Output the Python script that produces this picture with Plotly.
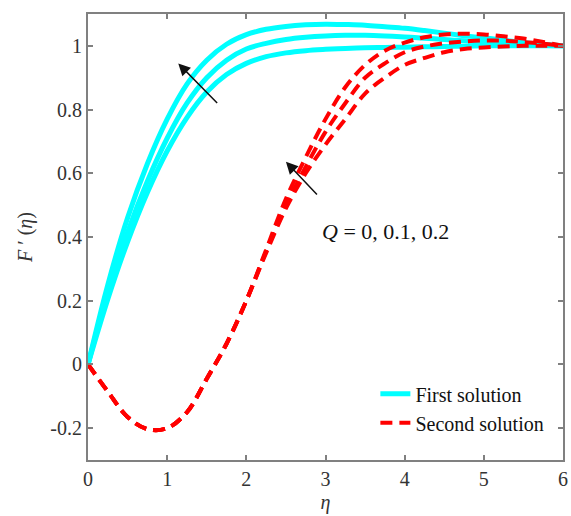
import plotly.graph_objects as go

eta = [0, 0.25, 0.5, 0.75, 1.0, 1.25, 1.5, 1.75, 2.0, 2.25, 2.5, 2.75, 3.0,
       3.25, 3.5, 3.75, 4.0, 4.25, 4.5, 4.75, 5.0, 5.25, 5.5, 5.75, 6.0]

# First solution, three values of Q
first_a = [0, 0.25, 0.46, 0.63, 0.77, 0.88, 0.955, 1.005, 1.035, 1.052, 1.061, 1.066, 1.068,
           1.067, 1.065, 1.06, 1.055, 1.048, 1.04, 1.032, 1.025, 1.018, 1.01, 1.005, 1.0]
first_b = [0, 0.225, 0.415, 0.575, 0.71, 0.82, 0.9, 0.955, 0.99, 1.008, 1.02, 1.027, 1.031,
           1.033, 1.033, 1.031, 1.028, 1.024, 1.02, 1.016, 1.012, 1.008, 1.005, 1.002, 1.0]
first_c = [0, 0.205, 0.385, 0.54, 0.67, 0.775, 0.855, 0.91, 0.945, 0.966, 0.978, 0.985, 0.989,
           0.992, 0.994, 0.995, 0.996, 0.997, 0.998, 0.999, 1.0, 1.0, 1.0, 1.0, 1.0]

# Second solution, three values of Q
second_a = [0, -0.085, -0.165, -0.203, -0.2, -0.15, -0.045, 0.065, 0.2, 0.36, 0.52, 0.65, 0.77,
            0.87, 0.94, 0.985, 1.01, 1.027, 1.036, 1.038, 1.036, 1.03, 1.023, 1.012, 1.0]
second_b = [0, -0.085, -0.165, -0.203, -0.2, -0.15, -0.045, 0.065, 0.2, 0.355, 0.5, 0.62, 0.73,
            0.82, 0.9, 0.945, 0.98, 0.998, 1.008, 1.014, 1.017, 1.016, 1.012, 1.007, 1.0]
second_c = [0, -0.085, -0.165, -0.203, -0.2, -0.15, -0.045, 0.065, 0.2, 0.35, 0.49, 0.6, 0.69,
            0.77, 0.85, 0.9, 0.94, 0.962, 0.98, 0.99, 0.995, 0.998, 1.0, 1.0, 1.0]

y_ticks = [-0.2, 0, 0.2, 0.4, 0.6, 0.8, 1]
y_ticktext = ["-0.2", "0", "0.2", "0.4", "0.6", "0.8", "1"]
x_ticks = [0, 1, 2, 3, 4, 5, 6]

FONT = "Liberation Serif"
CYAN = "#00FFFF"
RED = "#FF0000"

fig = go.Figure()
for i, ys in enumerate([first_a, first_b, first_c]):
    fig.add_trace(go.Scatter(x=eta, y=ys, mode="lines", line=dict(color=CYAN, width=5, shape="spline"),
                             name="First solution", legendgroup="first", showlegend=(i == 0)))
for i, ys in enumerate([second_a, second_b, second_c]):
    fig.add_trace(go.Scatter(x=eta, y=ys, mode="lines",
                             line=dict(color=RED, width=4, dash="12px,7px", shape="spline"),
                             name="Second solution", legendgroup="second", showlegend=(i == 0)))

axis_common = dict(showline=True, linecolor="#808080", linewidth=2, mirror="ticks",
                   ticks="inside", ticklen=5, tickcolor="#808080", tickwidth=1.5,
                   showgrid=False, zeroline=False,
                   tickfont=dict(family=FONT, size=20, color="#333333"))

fig.update_xaxes(range=[0, 6], tickvals=x_ticks,
                 title=dict(text="<i>η</i>", font=dict(family=FONT, size=20, color="#333333"), standoff=6),
                 **axis_common)
fig.update_yaxes(range=[-0.3, 1.1], tickvals=y_ticks, ticktext=y_ticktext,
                 title=dict(text="<i>F</i> ′ (<i>η</i>)", font=dict(family=FONT, size=20, color="#333333"), standoff=12),
                 **axis_common)

# arrows
fig.add_annotation(x=1.14, y=0.945, ax=1.65, ay=0.816, xref="x", yref="y", axref="x", ayref="y",
                   text="", showarrow=True, arrowhead=2, arrowsize=1.6, arrowwidth=1.5, arrowcolor="#111111")
fig.add_annotation(x=2.5, y=0.636, ax=2.91, ay=0.529, xref="x", yref="y", axref="x", ayref="y",
                   text="", showarrow=True, arrowhead=2, arrowsize=1.6, arrowwidth=1.5, arrowcolor="#111111")
fig.add_annotation(x=2.93, y=0.416, xref="x", yref="y", xanchor="left", yanchor="middle",
                   text="<i>Q</i> = 0, 0.1, 0.2", showarrow=False,
                   font=dict(family=FONT, size=22, color="#111111"))

fig.update_layout(
    width=571, height=516,
    margin=dict(l=88, r=3, t=14, b=56),
    paper_bgcolor="white", plot_bgcolor="white",
    legend=dict(x=0.605, y=0.192, xanchor="left", yanchor="top", bgcolor="rgba(0,0,0,0)",
                font=dict(family=FONT, size=20, color="#111111"), tracegroupgap=0),
)

fig.write_html("out.html")
